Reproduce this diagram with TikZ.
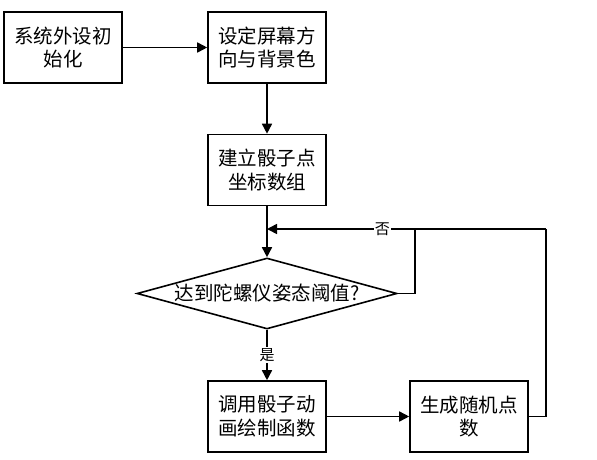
\documentclass[tikz,border=0pt]{standalone}
\usepackage{fontspec}
\setmainfont{Noto Sans CJK SC}
\usetikzlibrary{arrows.meta,shapes.geometric}
\begin{document}
\begin{tikzpicture}[x=1pt,y=-1pt,
  box/.style={draw,line width=1.6pt,minimum width=118pt,minimum height=71pt,inner sep=0pt,align=center,font=\fontsize{19.5}{23.5}\selectfont},
  dia/.style={draw,diamond,line width=1.6pt,minimum width=260pt,minimum height=71pt,inner sep=0pt,font=\fontsize{19.5}{23.5}\selectfont},
  conn/.style={line width=1.6pt},
  arr/.style={conn,-{Triangle[length=10pt,width=10pt]}},
  lab/.style={fill=white,inner sep=1pt,font=\fontsize{15}{17}\selectfont}]
\useasboundingbox (0,0) rectangle (597,460);
\node[box] (b1) at (63,47.5) {系统外设初\\始化};
\node[box] (b2) at (267,47.5) {设定屏幕方\\向与背景色};
\node[box] (b3) at (267,170) {建立骰子点\\坐标数组};
\node[dia] (d) at (267,293.5) {\makebox[0pt]{达到陀螺仪姿态阈值?}};
\node[box] (b4) at (267,416.5) {调用骰子动\\画绘制函数};
\node[box] (b5) at (469,416.5) {生成随机点\\数};
\coordinate (j) at (267,229);
\coordinate (r1) at (415,293.5);
\coordinate (r2) at (415,229);
\coordinate (q1) at (546,416.5);
\coordinate (q2) at (546,229);
\draw[arr] (b1) -- (b2);
\draw[arr] (b2) -- (b3);
\draw[arr] (b3) -- (d);
\draw[conn] (d.east) -- (r1) -- (r2);
\draw[arr] (q2) -- (r2) -- node[lab,pos=0.22] {否} (j);
\draw[conn] (b5.east) -- (q1) -- (q2);
\draw[arr] (d.south) -- node[lab,pos=0.5] {是} (b4.north);
\draw[arr] (b4) -- (b5);
\end{tikzpicture}
\end{document}
